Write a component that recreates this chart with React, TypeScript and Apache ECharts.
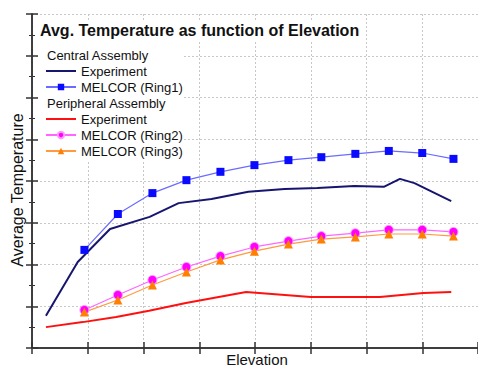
import React, { useEffect, useRef } from "react";
import * as echarts from "echarts";

const titleText = "Avg. Temperature as function of Elevation";
const xName = "Elevation";
const yName = "Average Temperature";

const melcorElev = [0.94, 1.54, 2.16, 2.77, 3.38, 3.99, 4.6, 5.19, 5.8, 6.4, 7.0, 7.56];
const ring1 = [2.35, 3.21, 3.71, 4.02, 4.22, 4.38, 4.5, 4.57, 4.65, 4.72, 4.67, 4.53];
const ring2 = [0.91, 1.27, 1.63, 1.94, 2.2, 2.42, 2.56, 2.68, 2.75, 2.83, 2.83, 2.78];
const ring3 = [0.86, 1.15, 1.51, 1.82, 2.11, 2.32, 2.49, 2.61, 2.66, 2.73, 2.73, 2.68];

const centralExpElev = [0.25, 0.82, 1.4, 2.11, 2.63, 3.22, 3.88, 4.53, 5.12, 5.78, 6.31, 6.6, 6.86, 7.52];
const centralExp = [0.77, 2.06, 2.85, 3.14, 3.47, 3.57, 3.74, 3.81, 3.83, 3.88, 3.86, 4.05, 3.95, 3.52];

const periphExpElev = [0.25, 0.91, 1.51, 2.1, 2.76, 3.84, 5.0, 6.24, 7.02, 7.52];
const periphExp = [0.5, 0.62, 0.74, 0.89, 1.08, 1.34, 1.22, 1.22, 1.32, 1.34];

const centralHeader = "Central Assembly";
const periphHeader = "Peripheral Assembly";

const FONT = "'Liberation Sans', Arial, sans-serif";

const zip = (xs: number[], ys: number[]) => xs.map((x, i) => [x, ys[i]]);

export default function App() {
  const ref = useRef<HTMLDivElement>(null);
  useEffect(() => {
    const chart = echarts.init(ref.current!, null, { renderer: "svg" });
    const axisCommon = {
      type: "value" as const,
      min: 0,
      max: 8,
      interval: 1,
      axisLabel: { show: false },
      axisLine: { show: true, lineStyle: { color: "#333", width: 1.5 } },
      axisTick: { show: true, inside: true, length: 6, lineStyle: { color: "#333", width: 1.5 } },
    };
    const legendCommon = {
      orient: "vertical" as const,
      left: 45,
      padding: 0,
      itemGap: 2,
      itemWidth: 30,
      itemHeight: 8,
      formatter: (n: string) => (n.startsWith("Experiment") ? "Experiment" : n),
      textStyle: { fontFamily: FONT, fontSize: 13, color: "#111", lineHeight: 14 },
      selectedMode: false,
    };
    chart.setOption({
      animation: false,
      backgroundColor: "#fff",
      grid: { left: 32, width: 450, top: 14, bottom: 19 },
      title: {
        text: titleText,
        left: 40,
        top: 22,
        padding: 0,
        textStyle: { fontFamily: FONT, fontSize: 16, fontWeight: "bold", color: "#111" },
      },
      xAxis: [
        {
          ...axisCommon,
          position: "bottom",
          splitLine: { show: true, lineStyle: { color: "#c8c8c8", type: [2, 2], width: 1 } },
        },
        {
          ...axisCommon,
          position: "top",
          splitLine: { show: false },
        },
      ],
      yAxis: [
        {
          ...axisCommon,
          position: "left",
          minorTick: { show: true, splitNumber: 2, length: 3, lineStyle: { color: "#333", width: 1 } },
          splitLine: { show: true, lineStyle: { color: "#c8c8c8", type: [2, 2], width: 1 } },
        },
        {
          ...axisCommon,
          position: "right",
          minorTick: { show: true, splitNumber: 2, length: 3, lineStyle: { color: "#333", width: 1 } },
          splitLine: { show: false },
        },
      ],
      legend: [
        {
          ...legendCommon,
          top: 64,
          data: [
            { name: "Experiment (Central)", itemStyle: { opacity: 0 } },
            "MELCOR (Ring1)",
          ],
        },
        {
          ...legendCommon,
          top: 112,
          data: [
            { name: "Experiment (Peripheral)", itemStyle: { opacity: 0 } },
            "MELCOR (Ring2)",
            "MELCOR (Ring3)",
          ],
        },
      ],
      graphic: [
        { type: "rect", z: 1, shape: { x: 38, y: 21, width: 326, height: 19 }, style: { fill: "#fff" } },
        { type: "rect", z: 1, shape: { x: 38, y: 40, width: 146, height: 120 }, style: { fill: "#fff" } },
        {
          type: "text",
          z: 5,
          x: 47,
          y: 55,
          style: { text: centralHeader, font: `13px ${FONT}`, fill: "#111", verticalAlign: "middle" },
        },
        {
          type: "text",
          z: 5,
          x: 47,
          y: 103,
          style: { text: periphHeader, font: `13px ${FONT}`, fill: "#111", verticalAlign: "middle" },
        },
        {
          type: "text",
          z: 5,
          x: 257,
          y: 359,
          style: { text: xName, font: `15px ${FONT}`, fill: "#111", align: "center", verticalAlign: "middle" },
        },
        {
          type: "text",
          z: 5,
          x: 17,
          y: 190,
          rotation: Math.PI / 2,
          style: { text: yName, font: `16px ${FONT}`, fill: "#111", align: "center", verticalAlign: "middle" },
        },
      ],
      series: [
        {
          name: "Experiment (Central)",
          type: "line",
          data: zip(centralExpElev, centralExp),
          symbol: "none",
          z: 3,
          lineStyle: { color: "#161670", width: 2 },
          itemStyle: { color: "#161670" },
        },
        {
          name: "MELCOR (Ring1)",
          type: "line",
          data: zip(melcorElev, ring1),
          symbol: "rect",
          symbolSize: 8,
          lineStyle: { color: "#6b6bff", width: 1.2 },
          itemStyle: { color: "#0a0aff" },
        },
        {
          name: "Experiment (Peripheral)",
          type: "line",
          data: zip(periphExpElev, periphExp),
          symbol: "none",
          lineStyle: { color: "#ff1010", width: 2 },
          itemStyle: { color: "#ff1010" },
        },
        {
          name: "MELCOR (Ring2)",
          type: "line",
          data: zip(melcorElev, ring2),
          symbol: "circle",
          symbolSize: 9,
          lineStyle: { color: "#ff66ff", width: 1.2 },
          itemStyle: { color: "#ff00ff", borderColor: "#ff99ff", borderWidth: 1 },
        },
        {
          name: "MELCOR (Ring3)",
          type: "line",
          data: zip(melcorElev, ring3),
          symbol: "triangle",
          symbolSize: 9,
          lineStyle: { color: "#ff9a40", width: 1.2 },
          itemStyle: { color: "#ff7f00" },
        },
      ],
    });
    return () => chart.dispose();
  }, []);
  return (
    <div
      ref={ref}
      style={{ position: "fixed", left: 0, top: 0, width: 478, height: 367 }}
    />
  );
}
